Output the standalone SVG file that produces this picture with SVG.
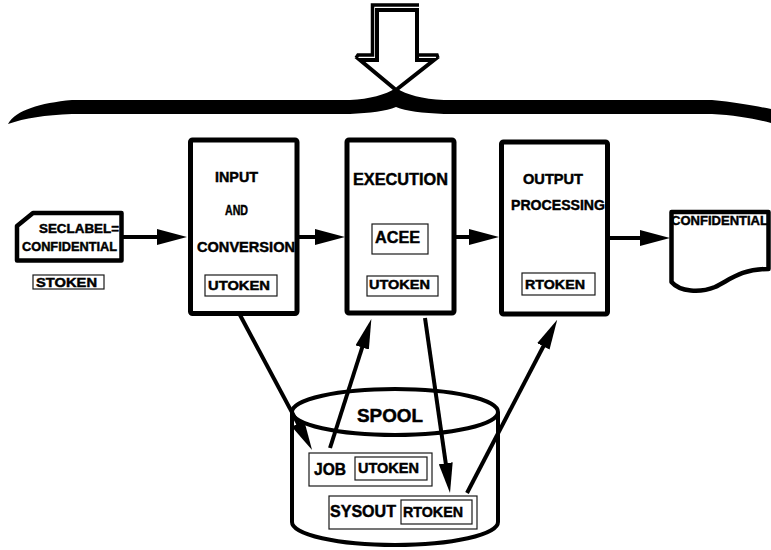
<svg xmlns="http://www.w3.org/2000/svg" width="771" height="550" viewBox="0 0 771 550">
  <style>
    .box { fill: #fff; stroke: #000; stroke-width: 5; stroke-linejoin: round; }
    .tok { fill: #fff; stroke: #1a1a1a; stroke-width: 1.2; }
    .t { font-family: "Liberation Sans", Arial, Helvetica, sans-serif; font-weight: bold; fill: #000; stroke: #000; stroke-width: 0.45; }
    .conn { fill: none; stroke: #000; stroke-width: 4; marker-end: url(#ah); }
    .diag { marker-end: url(#ahs); }
  </style>
  <defs>
    <marker id="ah" viewBox="0 -8 30 16" refX="1" refY="0" markerWidth="30" markerHeight="16" markerUnits="userSpaceOnUse" orient="auto">
      <path d="M0,-8 L30,0 L0,8 Z" fill="#000"/>
    </marker>
    <marker id="ahs" viewBox="0 -7 30 14" refX="1" refY="0" markerWidth="30" markerHeight="14" markerUnits="userSpaceOnUse" orient="auto">
      <path d="M0,-7 L30,0 L0,7 Z" fill="#000"/>
    </marker>
  </defs>

  <!-- big downward arrow feeding the brace -->
  <g id="entry-arrow">
    <path d="M377,10 L417,10 L417,60 L434,60 L396,90 L360,60 L377,60 Z" fill="#fff" stroke="#000" stroke-width="4" stroke-linejoin="miter"/>
    <path d="M356,58 L358,55 L372.5,55 L372.5,5 L419,5" fill="none" stroke="#000" stroke-width="3.5"/>
    <path d="M419,55 L437,55 L438,58" fill="none" stroke="#000" stroke-width="3.5"/>
  </g>

  <!-- curly brace spanning the process -->
  <g id="brace">
    <path d="M8,124 C16,110 40,103 72,100 L350,100 C370,99 385,95 396,88 C407,95 422,99 444,100 L712,100 C735,102 755,106 771,109 L771,123 C755,119 735,115 712,114 L444,114 C422,113 406,111 396,107 C386,111 370,113 350,114 L72,114 C45,115 25,118 8,124 Z" fill="#000"/>
  </g>

  <!-- security label card -->
  <g id="card">
    <path d="M33,213 L121.5,213 L121.5,260.5 L17,260.5 L17,226 Z" fill="#fff" stroke="#000" stroke-width="4.5" stroke-linejoin="round"/>
    <text class="t" x="39" y="232.5" font-size="12.5" textLength="80" lengthAdjust="spacingAndGlyphs">SECLABEL=</text>
    <text class="t" x="22" y="250.5" font-size="12.5" textLength="95" lengthAdjust="spacingAndGlyphs">CONFIDENTIAL</text>
  </g>
  <g id="stoken">
    <rect class="tok" x="33" y="275" width="71" height="14"/>
    <text class="t" x="36" y="287" font-size="13" textLength="61" lengthAdjust="spacingAndGlyphs">STOKEN</text>
  </g>

  <!-- input and conversion -->
  <g id="input">
    <rect class="box" x="190.5" y="140" width="106.5" height="173.5" rx="2"/>
    <text class="t" x="215" y="181.5" font-size="14" textLength="43" lengthAdjust="spacingAndGlyphs">INPUT</text>
    <text class="t" x="225" y="215" font-size="14" textLength="23" lengthAdjust="spacingAndGlyphs">AND</text>
    <text class="t" x="197" y="251.5" font-size="14" textLength="98" lengthAdjust="spacingAndGlyphs">CONVERSION</text>
    <rect class="tok" x="205" y="275" width="72" height="21"/>
    <text class="t" x="208" y="290" font-size="13" textLength="62" lengthAdjust="spacingAndGlyphs">UTOKEN</text>
  </g>

  <!-- execution -->
  <g id="execution">
    <rect class="box" x="347" y="140" width="107" height="173" rx="2"/>
    <text class="t" x="353" y="185" font-size="16.5" textLength="95" lengthAdjust="spacingAndGlyphs">EXECUTION</text>
    <rect class="tok" x="372" y="224" width="56" height="30"/>
    <text class="t" x="375" y="243" font-size="16" textLength="45" lengthAdjust="spacingAndGlyphs">ACEE</text>
    <rect class="tok" x="367" y="276" width="71" height="20"/>
    <text class="t" x="369" y="289" font-size="13" textLength="61" lengthAdjust="spacingAndGlyphs">UTOKEN</text>
  </g>

  <!-- output processing -->
  <g id="output">
    <rect class="box" x="501.5" y="142" width="106" height="172" rx="2"/>
    <text class="t" x="523" y="184" font-size="14.5" textLength="60" lengthAdjust="spacingAndGlyphs">OUTPUT</text>
    <text class="t" x="511" y="210" font-size="14.5" textLength="94" lengthAdjust="spacingAndGlyphs">PROCESSING</text>
    <rect class="tok" x="522" y="273" width="73" height="22"/>
    <text class="t" x="525" y="289" font-size="13" textLength="60" lengthAdjust="spacingAndGlyphs">RTOKEN</text>
  </g>

  <!-- printed document -->
  <g id="document">
    <path d="M671.5,212 L768.5,212 L768.5,269 C740,269 730,280 715,287 C700,293 680,292 671.5,282 Z" fill="#fff" stroke="#000" stroke-width="4.5" stroke-linejoin="round"/>
    <text class="t" x="671" y="225" font-size="13" textLength="97" lengthAdjust="spacingAndGlyphs">CONFIDENTIAL</text>
  </g>

  <!-- spool data set -->
  <g id="spool">
    <path d="M292,412 L292,522 A103,23 0 0 0 498,522 L498,412" fill="#fff" stroke="#000" stroke-width="4"/>
    <ellipse cx="395" cy="412" rx="103" ry="23" fill="#fff" stroke="#000" stroke-width="4"/>
    <text class="t" x="357" y="421.5" font-size="18" textLength="66" lengthAdjust="spacingAndGlyphs">SPOOL</text>
  </g>
  <g id="job">
    <rect class="tok" x="309" y="453" width="123" height="33"/>
    <text class="t" x="314" y="475" font-size="16" textLength="32" lengthAdjust="spacingAndGlyphs">JOB</text>
    <rect class="tok" x="355" y="457" width="72" height="23"/>
    <text class="t" x="358" y="473" font-size="15" textLength="61" lengthAdjust="spacingAndGlyphs">UTOKEN</text>
  </g>
  <g id="sysout">
    <rect class="tok" x="329" y="496" width="148" height="33"/>
    <text class="t" x="330" y="517" font-size="16" textLength="66" lengthAdjust="spacingAndGlyphs">SYSOUT</text>
    <rect class="tok" x="401" y="500" width="71" height="24"/>
    <text class="t" x="403" y="517" font-size="14.5" textLength="60" lengthAdjust="spacingAndGlyphs">RTOKEN</text>
  </g>

  <!-- flow connectors -->
  <g id="connectors">
    <path class="conn" d="M123,237 L158,237"/>
    <path class="conn" d="M299,237 L316,237"/>
    <path class="conn" d="M456,237 L470,237"/>
    <path class="conn" d="M609,238 L641,238"/>
    <path class="conn diag" d="M240,315 L298.4,424.4"/>
    <path class="conn diag" d="M330,448 L362.5,346.5"/>
    <path class="conn diag" d="M425,318 L445.9,464.3"/>
    <path class="conn diag" d="M467,493 L543.8,345.5"/>
  </g>
</svg>
